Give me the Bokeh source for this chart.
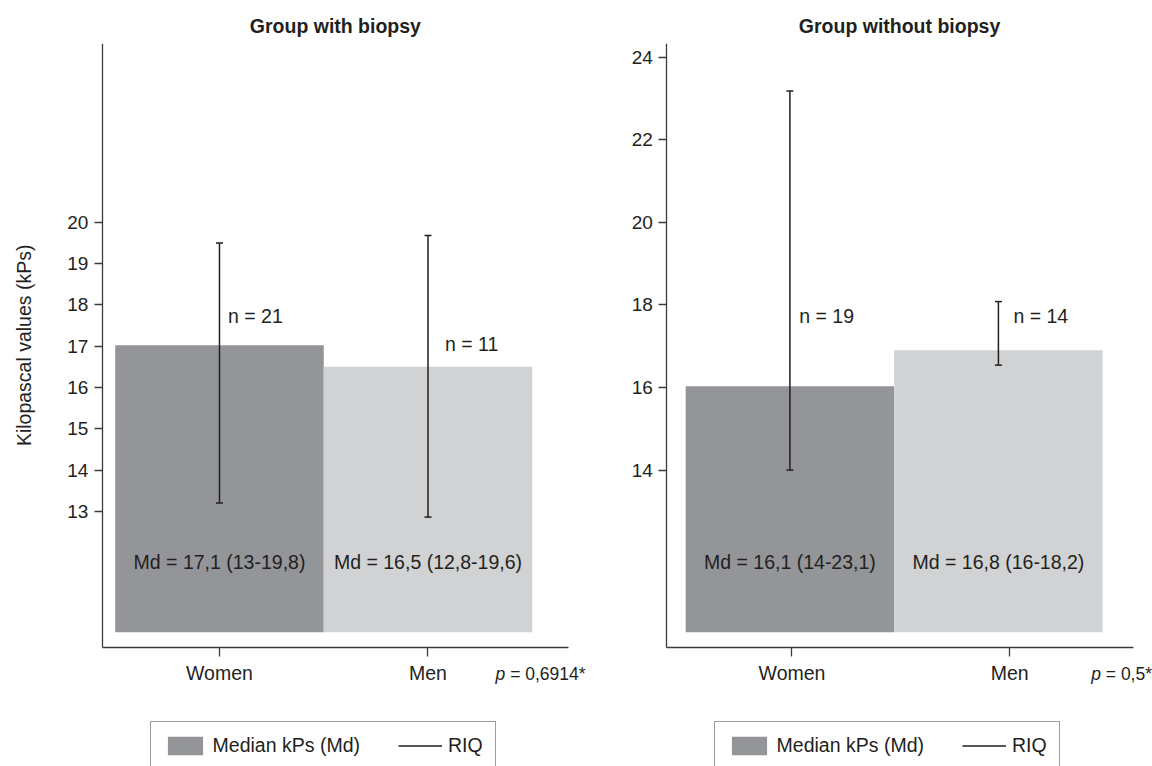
import math
from bokeh.plotting import figure
from bokeh.layouts import row
from bokeh.models import ColumnDataSource, FixedTicker, Legend, LegendItem, Label, Range1d
from bokeh.core.properties import value
from bokeh.embed import file_html
from bokeh.resources import INLINE

# ---------------- data ----------------
categories = ["Women", "Men"]
bar_colors = ["#939598", "#d1d2d4"]

# Group with biopsy
wb_median = [17.02, 16.50]
wb_q1 = [13.20, 12.86]
wb_q3 = [19.50, 19.68]
wb_n = ["n = 21", "n = 11"]
wb_md = ["Md = 17,1 (13-19,8)", "Md = 16,5 (12,8-19,6)"]
wb_p = "= 0,6914*"
wb_yticks = [13, 14, 15, 16, 17, 18, 19, 20]

# Group without biopsy
nb_median = [16.03, 16.90]
nb_q1 = [14.00, 16.54]
nb_q3 = [23.18, 18.08]
nb_n = ["n = 19", "n = 14"]
nb_md = ["Md = 16,1 (14-23,1)", "Md = 16,8 (16-18,2)"]
nb_p = "= 0,5*"
nb_yticks = [14, 16, 18, 20, 22, 24]

y_title = "Kilopascal values (kPs)"

# ---------------- style / placement ----------------
FONT = "Liberation Sans"
TXT = "#231f20"
AX = "#3c3c3c"
FS = "19.5px"
Y_AXIS_BOUNDS = (9.71, 24.33)
Y_RANGE = (6.82, 24.33)
BAR_BASE = 10.07
MD_Y = 11.78
P_Y = 9.05
H = 766


def make_panel(title, med, q1, q3, ntext, mdtext, ptext, yticks, xr, xbounds, xticks,
               n_y, n_dx, p_x, width, title_offset, legend_x, ylabel_pos=None):
    xs = [1, 2]
    p = figure(width=width, height=H, x_range=Range1d(*xr), y_range=Range1d(*Y_RANGE),
               output_backend="svg", toolbar_location=None,
               min_border_left=0, min_border_right=0,
               min_border_top=43, min_border_bottom=0)
    p.outline_line_color = None
    p.xgrid.visible = False
    p.ygrid.visible = False
    p.background_fill_color = "white"

    src = ColumnDataSource(dict(x=xs, top=med, q1=q1, q3=q3, color=bar_colors,
                                ntext=ntext, ny=n_y, ndx=n_dx, md=mdtext,
                                mdy=[MD_Y, MD_Y]))
    bars = p.vbar(x="x", top="top", bottom=BAR_BASE, width=1.0, fill_color="color",
                  line_color=None, source=src)
    stems = p.segment(x0="x", y0="q1", x1="x", y1="q3", line_color=TXT, line_width=1.5,
                      source=src)
    p.scatter(x="x", y="q1", marker="dash", size=7, line_color=TXT, line_width=1.5, source=src)
    p.scatter(x="x", y="q3", marker="dash", size=7, line_color=TXT, line_width=1.5, source=src)

    p.text(x="x", y="ny", text="ntext", x_offset="ndx", source=src,
           text_align="left", text_baseline="middle", text_color=TXT,
           text_font=value(FONT), text_font_size=FS)
    p.text(x="x", y="mdy", text="md", source=src,
           text_align="center", text_baseline="middle", text_color=TXT,
           text_font=value(FONT), text_font_size=FS)

    # p-value label (italic p + rest)
    p.add_layout(Label(x=p_x, y=P_Y, text="p", text_font_style="italic",
                       text_font=FONT, text_font_size="17.5px", text_color=TXT,
                       text_baseline="middle", text_align="left"))
    p.add_layout(Label(x=p_x, y=P_Y, x_offset=14.6, text=ptext,
                       text_font=FONT, text_font_size="17.5px", text_color=TXT,
                       text_baseline="middle", text_align="left"))

    # y-axis title (rotated)
    if ylabel_pos is not None:
        p.text(x=[ylabel_pos[0]], y=[ylabel_pos[1]], text=[y_title], angle=math.pi / 2,
               text_align="center", text_baseline="middle", text_color=TXT,
               text_font=value(FONT), text_font_size=FS)

    # title
    p.title.text = title
    p.title.align = "left"
    p.title.offset = title_offset
    p.title.text_font = FONT
    p.title.text_font_style = "bold"
    p.title.text_font_size = FS
    p.title.text_color = TXT
    p.title.standoff = 14

    # axes
    xa = p.xaxis[0]
    xa.ticker = FixedTicker(ticks=xticks)
    xa.major_label_overrides = {xticks[0]: categories[0], xticks[1]: categories[1]}
    xa.fixed_location = Y_AXIS_BOUNDS[0]
    xa.bounds = xbounds
    ya = p.yaxis[0]
    ya.ticker = FixedTicker(ticks=yticks)
    ya.bounds = Y_AXIS_BOUNDS
    ya.fixed_location = xbounds[0]
    for a in (xa, ya):
        a.axis_line_color = AX
        a.axis_line_width = 1.3
        a.major_tick_line_color = AX
        a.major_tick_line_width = 1.3
        a.major_tick_in = 0
        a.minor_tick_line_color = None
        a.major_label_text_font = FONT
        a.major_label_text_color = TXT
        a.major_label_standoff = 6
    xa.major_tick_out = 9
    xa.major_label_text_font_size = FS
    ya.major_tick_out = 8
    ya.major_label_text_font_size = "19px"

    legend = Legend(items=[LegendItem(label="Median kPs (Md)", renderers=[bars], index=0),
                           LegendItem(label="RIQ", renderers=[stems])],
                    location=(legend_x, -3.7), orientation="horizontal",
                    glyph_width=44, glyph_height=23, label_height=23,
                    label_standoff=6, spacing=38, padding=12, margin=0,
                    border_line_color=AX, border_line_width=1.2,
                    background_fill_color="white", background_fill_alpha=1.0,
                    label_text_font=FONT, label_text_font_size=FS,
                    label_text_color=TXT)
    p.add_layout(legend)
    return p


left = make_panel("Group with biopsy", wb_median, wb_q1, wb_q3, wb_n, wb_md, wb_p,
                  wb_yticks, (-0.0503, 2.8849), (0.438, 2.676), [1, 2],
                  [17.74, 17.06], [8.5, 17], 2.324,
                  width=612, title_offset=249.3, legend_x=149.6,
                  ylabel_pos=(0.061, 17.02))
right = make_panel("Group without biopsy", nb_median, nb_q1, nb_q3, nb_n, nb_md, nb_p,
                   nb_yticks, (0.1491, 2.739), (0.410, 2.650), [1.01, 2.054],
                   [17.74, 17.72], [9.3, 15], 2.445,
                   width=540, title_offset=186.3, legend_x=101.6)

layout = row(left, right)
open("out.html", "w").write(file_html(layout, INLINE))
